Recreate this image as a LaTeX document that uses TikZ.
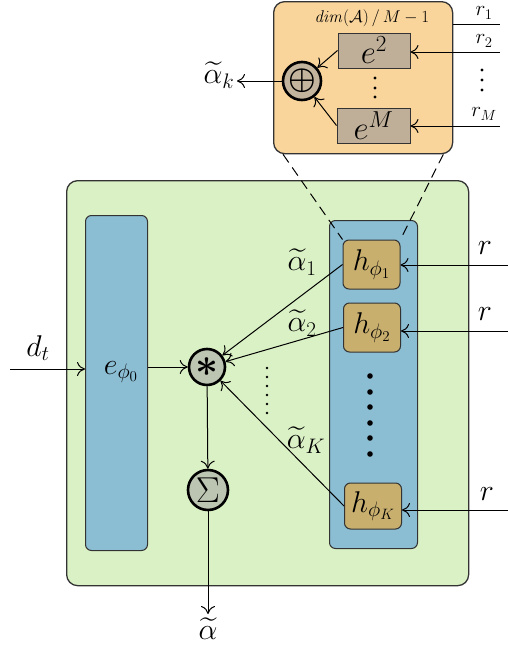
\RequirePackage{fix-cm}
\documentclass[tikz,border=0pt]{standalone}
\usepackage{amsmath,amssymb,bm}
\usetikzlibrary{arrows.meta,calc}
\definecolor{orangeF}{HTML}{F9D59B}
\definecolor{greenF}{HTML}{DAF1C5}
\definecolor{blueF}{HTML}{8BBDD3}
\definecolor{hF}{HTML}{C8AF6E}
\definecolor{eF}{HTML}{BFAF98}
\definecolor{opF}{HTML}{BCC5B2}
\definecolor{oplF}{HTML}{C3B49D}
\definecolor{lineC}{HTML}{333333}
\begin{document}
\begin{tikzpicture}[x=1pt,y=-1pt,
  every node/.style={font=\fontsize{30}{34}\selectfont, inner sep=0pt},
  outerbox/.style={draw=lineC, line width=1.3pt, rounded corners=11pt, inner sep=0pt},
  blkbox/.style={draw=lineC, line width=1pt, rounded corners=6pt, fill=blueF, inner sep=0pt},
  hbox/.style={draw=lineC, line width=1pt, rounded corners=6pt, fill=hF, minimum width=57pt, minimum height=49pt},
  ebox/.style={draw=lineC, line width=1pt, fill=eF, minimum width=72pt, minimum height=35pt, font=\fontsize{33}{36}\selectfont},
  opc/.style={circle, draw=black, line width=2.6pt, minimum size=36pt, inner sep=0pt},
  arr/.style={-{To[length=8pt,width=14pt]}, line width=1pt, draw=black},
  plain/.style={line width=1pt, draw=black},
  dsh/.style={line width=1pt, dash pattern=on 10pt off 6pt},
  small/.style={font=\fontsize{21}{24}\selectfont}
]
\useasboundingbox (0,0) rectangle (508,648);
% orange box
\node[outerbox, fill=orangeF, minimum width=179pt, minimum height=152pt, anchor=north west] (ob) at (273,1) {};
% green box
\node[outerbox, fill=greenF, minimum width=402pt, minimum height=405pt, anchor=north west] (gb) at (66,180) {};
% blue blocks
\node[blkbox, minimum width=62pt, minimum height=335pt, anchor=north west] (bl) at (85,215) {};
\node[blkbox, minimum width=88pt, minimum height=328pt, anchor=north west] (br) at (329,220) {};
\node (e0) at (121,372) {$e_{\phi_0}$};
% h boxes
\node[hbox] (h1) at (371.5,264.5) {$h_{\phi_1}$};
\node[hbox] (h2) at (372,327.5) {$h_{\phi_2}$};
\node[hbox, minimum height=46pt] (hK) at (373,506) {$h_{\phi_K}$};
\foreach \yy in {376,392,407,423,438,454} \fill (370,\yy) circle (2.8pt);
\foreach \yy in {368,377,386,395,404,413} \fill (267,\yy) circle (1.4pt);
% circles
\node[opc, fill=opF] (star) at (207,367) {\fontsize{40}{40}\selectfont$\bm{\ast}$};
\node[opc, fill=opF, minimum size=40pt] (sig) at (208,490) {\fontsize{36}{38}\selectfont$\Sigma$};
% connectors main
\coordinate (din) at (10,369);
\draw[arr] (din) -- (din -| bl.west);
\node (dt) at (38,348) {$d_t$};
\draw[arr] (bl.east |- star) -- (star);
\draw[arr] (h1.west) -- (star);
\draw[arr] (h2.west) -- (star);
\draw[arr] (hK.west) -- (star);
\node (a1) at (302,262) {$\widetilde{\alpha}_1$};
\node (a2) at (302,323) {$\widetilde{\alpha}_2$};
\node (aK) at (306,440) {$\widetilde{\alpha}_K$};
\draw[arr] (star) -- (sig);
\coordinate (aout) at (208,614);
\draw[arr] (sig) -- (aout);
\node (al) at (208,629) {$\widetilde{\alpha}$};
% r inputs
\coordinate (rin1) at (508,265);
\coordinate (rin2) at (508,331);
\coordinate (rinK) at (508,510);
\draw[arr] (rin1) -- (rin1 -| h1.east);
\draw[arr] (rin2) -- (rin2 -| h2.east);
\draw[arr] (rinK) -- (rinK -| hK.east);
\node (r1) at (485,248) {$r$};
\node (r2) at (485,314) {$r$};
\node (rK) at (487,494) {$r$};
% dashed
\draw[dsh] ($(ob.south west)+(10,0)$) -- (h1.north west);
\draw[dsh] ($(ob.south east)+(-10,0)$) -- (h1.north east);
% inside orange box
\node[font=\fontsize{17}{20}\selectfont] (dimlab) at (372,18) {$\mathit{dim}(\mathcal{A})\,/\,M-1$};
\node[ebox] (e2) at (374,50.5) {$e^2$};
\node[ebox, minimum width=73pt] (eM) at (373.5,125.5) {$e^M$};
\foreach \yy in {78,88,97} \fill (375,\yy) circle (1.6pt);
\node[opc, fill=oplF, minimum size=38pt] (opl) at (302,81) {\fontsize{31}{34}\selectfont$\bm{\oplus}$};
\draw[arr] (e2.west) -- (opl);
\draw[arr] (eM.west) -- (opl);
\coordinate (akout) at (237,81);
\draw[arr] (opl) -- (akout);
\node (ak) at (219,75) {$\widetilde{\alpha}_k$};
\coordinate (rr1) at (500,24);
\coordinate (rr2) at (500,52);
\coordinate (rrM) at (500,126);
\draw[plain] (rr1 -| ob.east) -- (rr1);
\draw[arr] (rr2) -- (rr2 -| e2.east);
\draw[arr] (rrM) -- (rrM -| eM.east);
\node[small] (lr1) at (484,13) {$r_1$};
\node[small] (lr2) at (484,41) {$r_2$};
\node[small] (lrM) at (484,114) {$r_M$};
\foreach \yy in {70,80,90} \fill (482,\yy) circle (1.6pt);
\end{tikzpicture}
\end{document}
